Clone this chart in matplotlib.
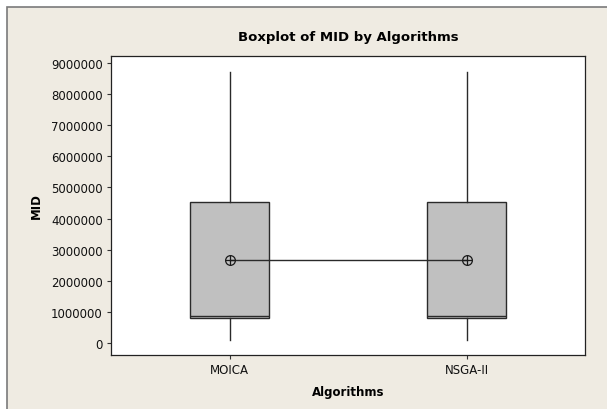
import matplotlib.pyplot as plt
from matplotlib.patches import Rectangle

# Box summary for MID per algorithm
algorithms = ['MOICA', 'NSGA-II']
whisker_low = [110000, 110000]
q1 = [790000, 790000]
median = [870000, 870000]
q3 = [4530000, 4530000]
whisker_high = [8710000, 8710000]
mean = [2670000, 2670000]
y_ticks = [0, 1000000, 2000000, 3000000, 4000000, 5000000,
           6000000, 7000000, 8000000, 9000000]

plt.rcParams['font.family'] = 'DejaVu Sans'

fig = plt.figure(figsize=(6.07, 4.10), dpi=100)
fig.patch.set_facecolor('white')

# Beige panel with a grey frame behind everything
fig.patches.append(Rectangle((7 / 607, -0.05), 1.0, 1 - 8 / 410 + 0.05,
                             transform=fig.transFigure, facecolor='#efebe2',
                             edgecolor='#7a7a7a', linewidth=1.2, zorder=-1))

ax = fig.add_axes([111 / 607, 1 - 356 / 410, 474 / 607, 299 / 410])
ax.set_facecolor('white')

stats = []
for i, name in enumerate(algorithms):
    stats.append({'label': name, 'whislo': whisker_low[i], 'q1': q1[i],
                  'med': median[i], 'q3': q3[i], 'whishi': whisker_high[i],
                  'fliers': []})

positions = [1, 2]
ax.bxp(stats, positions=positions, widths=0.333, patch_artist=True,
       showcaps=False,
       boxprops=dict(facecolor='#c0c0c0', edgecolor='#2a2a2a', linewidth=1.0),
       medianprops=dict(color='#2a2a2a', linewidth=1.0),
       whiskerprops=dict(color='#2a2a2a', linewidth=1.0))

# Connect the means and mark them with a circled plus
ax.plot(positions, mean, color='#2a2a2a', linewidth=1.0, zorder=3)
ax.plot(positions, mean, linestyle='none', marker='o', markersize=7,
        markerfacecolor='none', markeredgecolor='#1a1a1a',
        markeredgewidth=0.9, zorder=4)
ax.plot(positions, mean, linestyle='none', marker='+', markersize=7,
        markeredgecolor='#1a1a1a', markeredgewidth=0.9, zorder=4)

ax.set_xlim(0.5, 2.5)
ax.set_ylim(-386000, 9228000)
ax.set_yticks(y_ticks)
ax.set_yticklabels([str(v) for v in y_ticks])
ax.set_xticks(positions)
ax.set_xticklabels(algorithms)
ax.tick_params(axis='both', labelsize=8.5, length=3, width=0.8,
               color='#333333', labelcolor='#111111', pad=3)

for side in ax.spines.values():
    side.set_color('#222222')
    side.set_linewidth(0.9)

ax.set_xlabel('Algorithms', fontsize=8.5, fontweight='bold', labelpad=6)
ax.set_ylabel('MID', fontsize=8.5, fontweight='bold', labelpad=6)
fig.text(348 / 607, 1 - 38 / 410, 'Boxplot of MID by Algorithms',
         ha='center', va='center', fontsize=9.5, fontweight='bold')

fig.savefig('out.png', dpi=100)
